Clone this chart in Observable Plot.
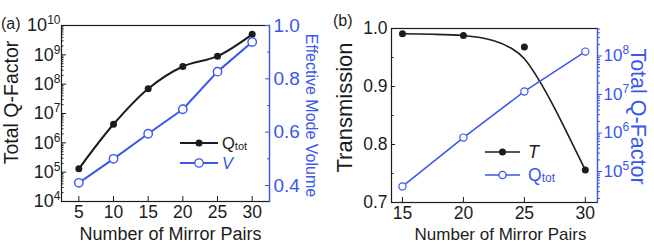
<!DOCTYPE html>
<html><head><meta charset="utf-8">
<script src="https://cdn.jsdelivr.net/npm/d3@7"></script>
<script src="https://cdn.jsdelivr.net/npm/@observablehq/plot@0.6"></script>
<style>
body{margin:0;background:#fff;}
#root{position:relative;width:654px;height:245px;overflow:hidden;font-family:"Liberation Sans",Arial,sans-serif;background:#fff;}
</style></head><body><div id="root"></div>
<script>
// ---- data ----
const pairsA = [5, 10, 15, 20, 25, 30];
const qTotA = [1.3e5, 4.3e6, 7.0e7, 4.0e8, 9.0e8, 5.0e9];
const modeVolA = [0.41, 0.50, 0.594, 0.686, 0.827, 0.938];

const pairsB = [15, 20, 25, 30];
const transB = [0.991, 0.988, 0.968, 0.756];
const qTotB = [4.1e4, 7.6e5, 1.2e7, 1.3e8];
// fitted transmission curve
const fitPairsB = [15, 17.5, 20, 22.5, 24, 25, 26, 27.5, 30];
const fitTransB = [0.991, 0.990, 0.988, 0.979, 0.965, 0.948, 0.918, 0.862, 0.756];

// ---- ticks / labels ----
const xTicksA = [5, 10, 15, 20, 25, 30];
const xTicksB = [15, 20, 25, 30];
const qTicksA = [1e4, 1e5, 1e6, 1e7, 1e8, 1e9, 1e10];
const vTicksA = [0.4, 0.6, 0.8, 1.0];
const vMinorA = [0.5, 0.7, 0.9];
const tTicksB = [0.7, 0.8, 0.9, 1.0];
const tMinorB = [0.75, 0.85, 0.95];
const qTicksB = [1e5, 1e6, 1e7, 1e8];
const xTitle = "Number of Mirror Pairs";
const yTitleA = "Total Q-Factor";
const y2TitleA = "Effective Mode Volume";
const yTitleB = "Transmission";
const y2TitleB = "Total Q-Factor";

const INK = "#1c1c1c", BLUE = "#3a56ee";
const FONT = '"Liberation Sans", Arial, Helvetica, sans-serif';

const minorLog = (lo, hi) => {
  const out = [];
  for (let e = Math.floor(Math.log10(lo)); e <= Math.ceil(Math.log10(hi)); e++)
    for (let m = 2; m <= 9; m++) { const v = m * 10 ** e; if (v > lo && v < hi) out.push(v); }
  return out;
};
const expFmt = d => "10^" + Math.round(Math.log10(d));

const tableA = pairsA.map((p, i) => ({pairs: p, q: qTotA[i], v: modeVolA[i]}));
const tableB = pairsB.map((p, i) => ({pairs: p, t: transB[i], q: qTotB[i]}));
const fitB = fitPairsB.map((p, i) => ({pairs: p, t: fitTransB[i]}));

const root = document.getElementById("root");

function supify(svg, supSize) {
  d3.select(svg).selectAll("text").each(function () {
    const m = /^10\^(\d+)$/.exec(this.textContent.trim());
    if (!m) return;
    const s = d3.select(this);
    s.text("");
    s.append("tspan").text("10");
    s.append("tspan").attr("dy", -7).attr("font-size", supSize + "px").text(m[1]);
  });
}
function mount(opts, left, supSize = 11.5) {
  const svg = Plot.plot({
    width: 327, height: 245,
    style: {fontFamily: FONT, fontSize: "17px", color: INK, background: "transparent", overflow: "visible"},
    ...opts
  });
  svg.style.position = "absolute";
  svg.style.left = left + "px";
  svg.style.top = "0px";
  supify(svg, supSize);
  root.appendChild(svg);
}
const title = (s, o) => Plot.text([s], {text: d => d, textAnchor: "middle", lineAnchor: "middle", ...o});

// ---------- panel (a) primary: Q (log) ----------
const mA = {marginLeft: 61, marginRight: 58, marginTop: 25, marginBottom: 44};
mount({
  ...mA,
  x: {domain: [2.5, 32.5]},
  y: {type: "log", domain: [1e4, 1e10]},
  marks: [
    Plot.frame({stroke: INK, strokeWidth: 1.2}),
    Plot.axisX({ticks: xTicksA, tickSize: -5, tickPadding: 9, tickFormat: d => d, label: null, fontSize: 17.5}),
    Plot.axisY({ticks: qTicksA, tickSize: -5, tickPadding: 6, tickFormat: expFmt, label: null, fontSize: 18}),
    Plot.axisY({ticks: minorLog(1e4, 1e10), tickSize: -2.5, text: null, label: null}),
    Plot.line(tableA, {x: "pairs", y: "q", curve: "catmull-rom", stroke: INK, strokeWidth: 2}),
    Plot.dot(tableA, {x: "pairs", y: "q", r: 3.5, fill: INK}),
    title(xTitle, {frameAnchor: "bottom", dx: 5, dy: 33, fontSize: 18, fill: INK}),
    title(yTitleA, {frameAnchor: "left", rotate: -90, dx: -50, dy: -11, fontSize: 19.5, fill: INK})
  ]
}, 0, 12);

// ---------- panel (a) secondary: V ----------
mount({
  ...mA,
  x: {domain: [2.5, 32.5], axis: null},
  y: {domain: [0.34, 1.0]},
  marks: [
    Plot.frame({anchor: "right", stroke: BLUE, strokeWidth: 1.2}),
    Plot.axisY({anchor: "right", ticks: vTicksA, tickSize: -5, tickPadding: 9, tickFormat: d3.format(".1f"), label: null, color: BLUE, fontSize: 19}),
    Plot.axisY({anchor: "right", ticks: vMinorA, tickSize: -3, text: null, label: null, color: BLUE}),
    Plot.line(tableA, {x: "pairs", y: "v", stroke: BLUE, strokeWidth: 2}),
    Plot.dot(tableA, {x: "pairs", y: "v", r: 4.2, fill: "white", stroke: BLUE, strokeWidth: 1.4}),
    title(y2TitleA, {frameAnchor: "right", rotate: 90, dx: 42, dy: 2, fontSize: 16, fill: BLUE})
  ]
}, 0);

// ---------- panel (b) primary: T ----------
const mB = {marginLeft: 64, marginRight: 57, marginTop: 28, marginBottom: 43};
mount({
  ...mB,
  x: {domain: [14.1, 31.0]},
  y: {domain: [0.7, 1.0]},
  marks: [
    Plot.frame({stroke: INK, strokeWidth: 1.2}),
    Plot.axisX({ticks: xTicksB, tickSize: -5, tickPadding: 9, tickFormat: d => d, label: null, fontSize: 17.5}),
    Plot.axisY({ticks: tTicksB, tickSize: -4, tickPadding: 8, tickFormat: d3.format(".1f"), label: null, fontSize: 17.5}),
    Plot.axisY({ticks: tMinorB, tickSize: -2.5, text: null, label: null}),
    Plot.line(fitB, {x: "pairs", y: "t", curve: "natural", stroke: INK, strokeWidth: 1.6}),
    Plot.dot(tableB, {x: "pairs", y: "t", r: 3.5, fill: INK}),
    title(xTitle, {frameAnchor: "bottom", dx: 6, dy: 32, fontSize: 17, fill: INK}),
    title(yTitleB, {frameAnchor: "left", rotate: -90, dx: -46.5, dy: -8, fontSize: 22, fill: INK})
  ]
}, 327);

// ---------- panel (b) secondary: Q (log) ----------
mount({
  ...mB,
  x: {domain: [14.1, 31.0], axis: null},
  y: {type: "log", domain: [10 ** 4.195, 10 ** 8.714]},
  marks: [
    Plot.frame({anchor: "right", stroke: BLUE, strokeWidth: 1.2}),
    Plot.axisY({anchor: "right", ticks: qTicksB, tickSize: 4, tickPadding: 2, tickFormat: expFmt, label: null, color: BLUE, fontSize: 17}),
    Plot.axisY({anchor: "right", ticks: minorLog(10 ** 4.195, 10 ** 8.714), tickSize: 2, text: null, label: null, color: BLUE}),
    Plot.line(tableB, {x: "pairs", y: "q", stroke: BLUE, strokeWidth: 1.5}),
    Plot.dot(tableB, {x: "pairs", y: "q", r: 3.6, fill: "white", stroke: BLUE, strokeWidth: 1.2}),
    title(y2TitleB, {frameAnchor: "right", rotate: 90, dx: 40, dy: 1, fontSize: 21.5, fill: BLUE})
  ]
}, 327, 12);

// ---------- legends and panel tags ----------
const ns = "http://www.w3.org/2000/svg";
const lg = d3.select(root).append("svg").attr("xmlns", ns)
  .attr("width", 654).attr("height", 245)
  .style("position", "absolute").style("left", 0).style("top", 0)
  .style("font-family", FONT).style("pointer-events", "none");

function legendRow(g, x1, x2, y, color, sw, filled, r, label, sub, fs, italic, tx) {
  g.append("line").attr("x1", x1).attr("x2", x2).attr("y1", y).attr("y2", y).attr("stroke", color).attr("stroke-width", sw);
  g.append("circle").attr("cx", (x1 + x2) / 2).attr("cy", y).attr("r", r)
    .attr("fill", filled ? color : "white").attr("stroke", filled ? "none" : color).attr("stroke-width", 1.3);
  const t = g.append("text").attr("x", tx).attr("y", y + fs * 0.36).attr("fill", color).attr("font-size", fs);
  t.append("tspan").attr("font-style", italic ? "italic" : "normal").text(label);
  if (sub) t.append("tspan").attr("font-size", Math.round(fs * 0.66)).attr("dy", 1).text(sub);
}
legendRow(lg, 180, 218, 143, INK, 2, true, 3.5, "Q", "tot", 16.5, false, 222);
legendRow(lg, 180, 218, 163, BLUE, 2, false, 4.2, "V", null, 16.5, true, 222);
legendRow(lg, 485, 520, 152, INK, 1.5, true, 3.5, "T", null, 18, true, 528);
legendRow(lg, 485, 520, 175, BLUE, 1.5, false, 3.6, "Q", "tot", 17.5, false, 528);

lg.append("text").attr("x", 1).attr("y", 29).attr("font-size", 16).attr("fill", INK).text("(a)");
lg.append("text").attr("x", 333).attr("y", 26).attr("font-size", 16).attr("fill", INK).text("(b)");
</script>
</body></html>
